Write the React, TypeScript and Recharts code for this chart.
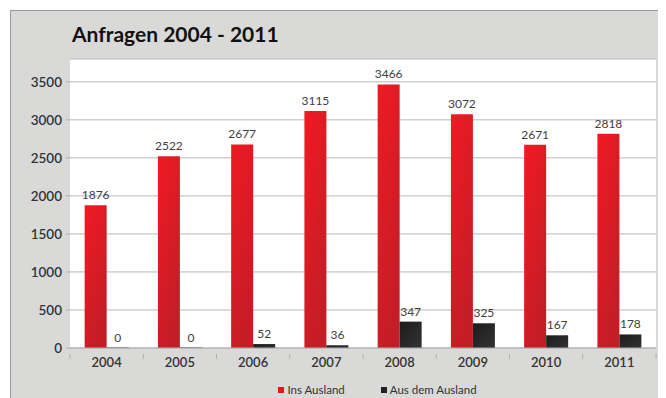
import React from "react";
import { Bar, BarChart, CartesianGrid, LabelList, Legend, XAxis, YAxis } from "recharts";

const years = ["2004", "2005", "2006", "2007", "2008", "2009", "2010", "2011"];
const insAusland = [1876, 2522, 2677, 3115, 3466, 3072, 2671, 2818];
const ausDemAusland = [0, 0, 52, 36, 347, 325, 167, 178];
const yTicks = [0, 500, 1000, 1500, 2000, 2500, 3000, 3500];

const data = years.map((year, i) => ({
    year,
    ins: insAusland[i],
    aus: ausDemAusland[i],
}));

const FONT = "Lato, 'Open Sans', sans-serif";
const BAND = 586 / years.length;

const YearTick = (props: any) => {
    const { x, y, payload, index } = props;
    return (
        <g>
            <line x1={x - BAND / 2} y1={y - 2} x2={x - BAND / 2} y2={y + 3} stroke="#b0b0b0" />
            {index === years.length - 1 && (
                <line x1={x + BAND / 2} y1={y - 2} x2={x + BAND / 2} y2={y + 3} stroke="#b0b0b0" />
            )}
            <text x={x} y={y + 11} textAnchor="middle" fill="#333" fontSize={13} fontWeight={600} fontFamily={FONT}>
                {payload.value}
            </text>
        </g>
    );
};

const LegendContent = () => (
    <div style={{ display: "flex", justifyContent: "center", fontFamily: FONT, fontSize: 11.5, color: "#333", paddingLeft: 88 }}>
        <span style={{ display: "flex", alignItems: "center", marginRight: 36 }}>
            <span style={{ width: 6, height: 6, background: "#e8141c", marginRight: 3 }} />
            Ins Ausland
        </span>
        <span style={{ display: "flex", alignItems: "center" }}>
            <span style={{ width: 6, height: 6, background: "#222", marginRight: 3 }} />
            Aus dem Ausland
        </span>
    </div>
);

const App: React.FC = () => {
    return (
        <div
            style={{
                position: "relative",
                margin: "2px 0 0 2px",
                width: 656,
                height: 388,
                background: "#d9d9d8",
                borderLeft: "1px solid #9a9a9a",
                borderTop: "1px solid #9a9a9a",
                overflow: "hidden",
            }}
        >
            <div
                style={{
                    position: "absolute",
                    left: 61,
                    top: 11,
                    fontFamily: FONT,
                    fontWeight: 700,
                    fontSize: 21,
                    color: "#111",
                    lineHeight: "24px",
                }}
            >
                Anfragen 2004 - 2011
            </div>
            <BarChart
                width={656}
                height={388}
                data={data}
                margin={{ top: 48, right: 11, bottom: 0, left: 0 }}
                barCategoryGap="20%"
                barGap={0}
            >
                <defs>
                    <linearGradient id="redGrad" x1="0" y1="0" x2="0.5" y2="1">
                        <stop offset="0%" stopColor="#f01a23" />
                        <stop offset="100%" stopColor="#c41d26" />
                    </linearGradient>
                    <linearGradient id="blackGrad" x1="0" y1="0" x2="1" y2="1">
                        <stop offset="0%" stopColor="#1c1c1c" />
                        <stop offset="100%" stopColor="#333" />
                    </linearGradient>
                </defs>
                <CartesianGrid vertical={false} stroke="#b8b8b8" fill="#ffffff" />
                <XAxis
                    dataKey="year"
                    axisLine={{ stroke: "#b0b0b0" }}
                    tickLine={false}
                    tick={<YearTick />}
                    interval={0}
                    height={38}
                />
                <YAxis
                    width={59}
                    domain={[0, 3800]}
                    ticks={yTicks}
                    axisLine={false}
                    tickLine={{ stroke: "#b0b0b0" }}
                    tickSize={4}
                    tickMargin={4}
                    tick={{ fill: "#333", fontSize: 13.5, fontWeight: 600, fontFamily: FONT }}
                />
                <Legend verticalAlign="bottom" content={<LegendContent />} wrapperStyle={{ bottom: 3 }} />
                <Bar dataKey="ins" name="Ins Ausland" fill="url(#redGrad)" isAnimationActive={false}>
                    <LabelList dataKey="ins" position="top" offset={6} fill="#404040" fontSize={12} fontFamily={FONT} />
                </Bar>
                <Bar dataKey="aus" name="Aus dem Ausland" fill="url(#blackGrad)" minPointSize={0.5} isAnimationActive={false}>
                    <LabelList dataKey="aus" position="top" offset={6} fill="#404040" fontSize={12} fontFamily={FONT} />
                </Bar>
            </BarChart>
        </div>
    );
};

export default App;
